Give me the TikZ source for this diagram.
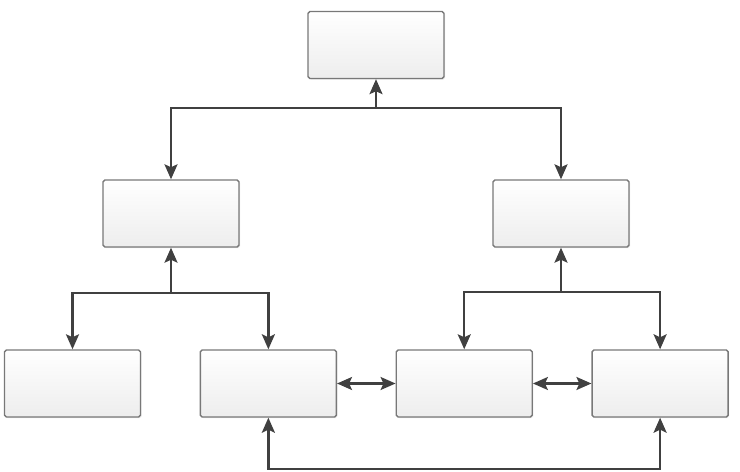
\documentclass[tikz,border=0pt]{standalone}
\usepackage{tikz}
\usetikzlibrary{arrows.meta,positioning,shadows}
\definecolor{boxline}{RGB}{120,120,120}
\definecolor{wire}{RGB}{64,64,64}

\begin{document}
\begin{tikzpicture}[
  x=0.02cm, y=-0.02cm,
  node distance=1.17cm,
  unit/.style={draw=boxline,line width=0.8pt,rounded corners=1pt,top color=white,bottom color=gray!14,
    minimum width=2.72cm,minimum height=1.34cm,inner sep=0pt,
    drop shadow={shadow xshift=0.6pt,shadow yshift=-0.6pt,fill=gray!35}},
  arr/.style={-{Stealth[length=3mm,width=2.6mm,inset=0.6mm]},line width=1.3pt,draw=wire},
  darr/.style={{Stealth[length=3mm,width=2.6mm,inset=0.6mm]}-{Stealth[length=3mm,width=2.6mm,inset=0.6mm]},line width=1.3pt,draw=wire},
]
\useasboundingbox (0,0) rectangle (740,472);
% top level
\node[unit] (top) at (376,45) {};
% middle level
\node[unit] (lmid) at (171,213.5) {};
\node[unit] (rmid) at (561,213.5) {};
% bottom row
\node[unit] (b1) at (72.5,383.5) {};
\node[unit,right=of b1] (b2) {};
\node[unit,right=of b2] (b3) {};
\node[unit,right=of b3] (b4) {};

% junctions
\coordinate (jtop) at (376,108);
\coordinate (jleft) at (171,293);
\coordinate (jright) at (561,292);
\coordinate (jbot) at (463,469);

\draw[arr] (jtop) -- (top);
\draw[arr] (jtop) -| (lmid);
\draw[arr] (jtop) -| (rmid);
\draw[arr] (jleft) -- (lmid);
\draw[arr] (jleft) -| (b1);
\draw[arr] (jleft) -| (b2);
\draw[arr] (jright) -- (rmid);
\draw[arr] (jright) -| (b3);
\draw[arr] (jright) -| (b4);
\draw[darr] (b2) -- (b3);
\draw[darr] (b3) -- (b4);
\draw[arr] (jbot) -| (b2);
\draw[arr] (jbot) -| (b4);
\end{tikzpicture}
\end{document}
